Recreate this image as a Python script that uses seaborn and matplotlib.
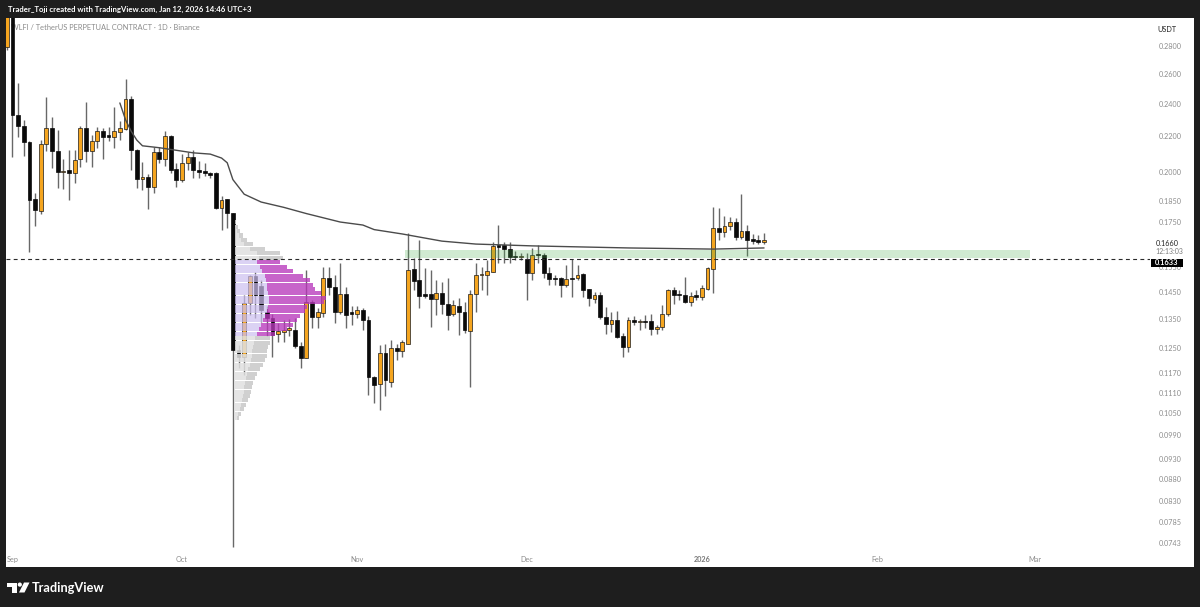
import numpy as np
import pandas as pd
import matplotlib
matplotlib.use("Agg")
import matplotlib.pyplot as plt
import matplotlib.dates as mdates
from matplotlib.patches import Rectangle, Circle, Polygon
from matplotlib.ticker import NullLocator
import seaborn as sns

sns.set_theme(style="white")
plt.rcParams['font.family'] = ['Lato', 'DejaVu Sans']

# ---------------- data ----------------
dates = pd.date_range("2025-08-31", "2026-01-12", freq="D")

opens = [0.2790, 0.3150, 0.2326, 0.2264, 0.2166, 0.1862, 0.1802, 0.2155, 0.2250, 0.2117,
         0.2000, 0.2011, 0.1995, 0.2071, 0.2250, 0.2113, 0.2172, 0.2232, 0.2203, 0.2196,
         0.2226, 0.2244, 0.2431, 0.2119, 0.1963, 0.1973, 0.1922, 0.2108, 0.2071, 0.2203,
         0.2016, 0.1958, 0.2049, 0.2081, 0.2011, 0.2005, 0.1995, 0.1995, 0.1817, 0.1862,
         0.1793, 0.1243, 0.1221, 0.1409, 0.1515, 0.1477, 0.1376, 0.1354, 0.1298, 0.1305,
         0.1312, 0.1312, 0.1257, 0.1218, 0.1413, 0.1358, 0.1373, 0.1507, 0.1470, 0.1377,
         0.1444, 0.1373, 0.1369, 0.1384, 0.1347, 0.1157, 0.1135, 0.1234, 0.1141, 0.1250,
         0.1240, 0.1265, 0.1544, 0.1499, 0.1444, 0.1444, 0.1425, 0.1448, 0.1406, 0.1369,
         0.1398, 0.1377, 0.1309, 0.1444, 0.1518, 0.1518, 0.1533, 0.1644, 0.1644, 0.1630,
         0.1598, 0.1592, 0.1585, 0.1527, 0.1607, 0.1602, 0.1527, 0.1507, 0.1507, 0.1480,
         0.1505, 0.1507, 0.1522, 0.1462, 0.1425, 0.1440, 0.1358, 0.1333, 0.1347, 0.1290,
         0.1254, 0.1347, 0.1340, 0.1343, 0.1343, 0.1316, 0.1323, 0.1369, 0.1459, 0.1444,
         0.1440, 0.1413, 0.1438, 0.1432, 0.1463, 0.1544, 0.1722, 0.1704, 0.1731, 0.1750,
         0.1681, 0.1709, 0.1668, 0.1664, 0.1660]
highs = [0.3200, 0.3200, 0.2540, 0.2298, 0.2175, 0.1890, 0.2180, 0.2444, 0.2317, 0.2238,
         0.2071, 0.2121, 0.2121, 0.2260, 0.2411, 0.2205, 0.2258, 0.2250, 0.2258, 0.2380,
         0.2290, 0.2563, 0.2450, 0.2125, 0.2054, 0.1990, 0.2140, 0.2140, 0.2232, 0.2210,
         0.2050, 0.2098, 0.2108, 0.2119, 0.2060, 0.2050, 0.2000, 0.2000, 0.1875, 0.1862,
         0.1793, 0.1260, 0.1440, 0.1520, 0.1531, 0.1500, 0.1400, 0.1370, 0.1336, 0.1347,
         0.1350, 0.1354, 0.1270, 0.1540, 0.1420, 0.1390, 0.1552, 0.1552, 0.1520, 0.1568,
         0.1470, 0.1400, 0.1400, 0.1390, 0.1360, 0.1160, 0.1260, 0.1265, 0.1277, 0.1265,
         0.1277, 0.1699, 0.1589, 0.1668, 0.1548, 0.1540, 0.1499, 0.1490, 0.1507, 0.1420,
         0.1428, 0.1413, 0.1459, 0.1568, 0.1550, 0.1581, 0.1658, 0.1736, 0.1660, 0.1660,
         0.1620, 0.1610, 0.1610, 0.1633, 0.1645, 0.1610, 0.1550, 0.1520, 0.1510, 0.1560,
         0.1585, 0.1560, 0.1527, 0.1465, 0.1452, 0.1450, 0.1395, 0.1375, 0.1380, 0.1300,
         0.1358, 0.1360, 0.1350, 0.1365, 0.1370, 0.1330, 0.1402, 0.1462, 0.1470, 0.1460,
         0.1511, 0.1450, 0.1460, 0.1480, 0.1550, 0.1822, 0.1817, 0.1779, 0.1774, 0.1770,
         0.1884, 0.1736, 0.1695, 0.1690, 0.1700]
lows = [0.2770, 0.2080, 0.2198, 0.2087, 0.1615, 0.1730, 0.1790, 0.2113, 0.2021, 0.1916,
        0.1911, 0.1856, 0.1942, 0.2027, 0.2054, 0.2027, 0.2132, 0.2071, 0.2172, 0.2134,
        0.2178, 0.2240, 0.2011, 0.1916, 0.1906, 0.1812, 0.1890, 0.2050, 0.2033, 0.1995,
        0.1922, 0.1950, 0.2011, 0.1968, 0.1968, 0.1980, 0.1970, 0.1812, 0.1713, 0.1722,
        0.0735, 0.1185, 0.1163, 0.1365, 0.1354, 0.1340, 0.1290, 0.1221, 0.1272, 0.1270,
        0.1290, 0.1250, 0.1185, 0.1218, 0.1320, 0.1320, 0.1358, 0.1440, 0.1336, 0.1370,
        0.1320, 0.1330, 0.1355, 0.1312, 0.1102, 0.1079, 0.1059, 0.1100, 0.1126, 0.1210,
        0.1220, 0.1262, 0.1459, 0.1391, 0.1430, 0.1321, 0.1365, 0.1370, 0.1312, 0.1360,
        0.1294, 0.1300, 0.1126, 0.1377, 0.1459, 0.1440, 0.1530, 0.1570, 0.1570, 0.1568,
        0.1580, 0.1580, 0.1421, 0.1499, 0.1570, 0.1507, 0.1480, 0.1480, 0.1432, 0.1470,
        0.1432, 0.1500, 0.1432, 0.1400, 0.1410, 0.1350, 0.1298, 0.1305, 0.1283, 0.1221,
        0.1236, 0.1330, 0.1312, 0.1320, 0.1294, 0.1298, 0.1310, 0.1360, 0.1406, 0.1420,
        0.1410, 0.1400, 0.1420, 0.1420, 0.1460, 0.1447, 0.1668, 0.1680, 0.1713, 0.1670,
        0.1672, 0.1598, 0.1650, 0.1650, 0.1650]
closes = [0.3150, 0.2330, 0.2264, 0.2166, 0.1856, 0.1807, 0.2155, 0.2250, 0.2117, 0.2001,
          0.2008, 0.1995, 0.2065, 0.2250, 0.2113, 0.2172, 0.2232, 0.2196, 0.2197, 0.2232,
          0.2250, 0.2431, 0.2119, 0.1963, 0.1973, 0.1922, 0.2108, 0.2071, 0.2203, 0.2011,
          0.1958, 0.2049, 0.2081, 0.2011, 0.2000, 0.1995, 0.1984, 0.1817, 0.1856, 0.1793,
          0.1243, 0.1221, 0.1409, 0.1515, 0.1440, 0.1384, 0.1354, 0.1294, 0.1307, 0.1312,
          0.1318, 0.1257, 0.1218, 0.1413, 0.1358, 0.1377, 0.1507, 0.1470, 0.1377, 0.1444,
          0.1365, 0.1369, 0.1384, 0.1347, 0.1157, 0.1132, 0.1234, 0.1148, 0.1250, 0.1240,
          0.1270, 0.1540, 0.1495, 0.1436, 0.1436, 0.1425, 0.1448, 0.1406, 0.1365, 0.1402,
          0.1377, 0.1312, 0.1444, 0.1518, 0.1522, 0.1537, 0.1641, 0.1638, 0.1630, 0.1594,
          0.1594, 0.1596, 0.1527, 0.1602, 0.1602, 0.1527, 0.1503, 0.1503, 0.1480, 0.1503,
          0.1503, 0.1518, 0.1459, 0.1429, 0.1440, 0.1358, 0.1333, 0.1347, 0.1287, 0.1254,
          0.1347, 0.1340, 0.1343, 0.1340, 0.1316, 0.1323, 0.1369, 0.1459, 0.1440, 0.1440,
          0.1413, 0.1436, 0.1434, 0.1467, 0.1548, 0.1722, 0.1704, 0.1731, 0.1750, 0.1681,
          0.1709, 0.1668, 0.1664, 0.1660, 0.1662]

# anchored VWAP line (read at sampled days)
vwap_dates = pd.to_datetime(["2025-09-20", "2025-09-21", "2025-09-22", "2025-09-23", "2025-09-24",
                             "2025-09-27", "2025-10-03", "2025-10-06", "2025-10-08", "2025-10-09",
                             "2025-10-10", "2025-10-12", "2025-10-15", "2025-10-19", "2025-10-23",
                             "2025-10-29", "2025-11-02", "2025-11-04", "2025-11-09", "2025-11-16",
                             "2025-11-22", "2025-12-02", "2025-12-19", "2025-12-22", "2026-01-03",
                             "2026-01-12"])
vwap_vals = [0.2405, 0.2300, 0.2230, 0.2178, 0.2145,
             0.2134, 0.2105, 0.2098, 0.2076, 0.2050,
             0.1960, 0.1885, 0.1846, 0.1820, 0.1790,
             0.1750, 0.1736, 0.1715, 0.1695, 0.1663,
             0.1650, 0.1642, 0.1633, 0.1632, 0.1628,
             0.1633]

# fixed-range volume profile (rows from top to bottom, price 0.1760 -> 0.1030)
profile_top, profile_bottom = 0.1760, 0.1030
profile_up = [0, 1, 2, 4, 6, 9, 15, 22, 24,
              22, 25, 27, 30, 31, 32, 32, 33, 34, 34, 33, 32, 30, 28, 26, 24, 22,
              20, 19, 18, 17, 17, 16, 15, 13, 12, 11, 10, 9, 9, 8, 7, 6, 5, 3, 2]
profile_down = [1, 2, 3, 4, 6, 9, 15, 23, 24,
                23, 27, 31, 38, 44, 46, 48, 52, 56, 54, 39, 38, 35, 34, 32, 28, 18,
                15, 16, 15, 15, 15, 14, 13, 12, 10, 9, 8, 8, 7, 7, 6, 5, 4, 3, 2]
value_area_rows = (9, 25)
profile_anchor = pd.Timestamp("2025-10-10 09:30")

zone_start, zone_end = pd.Timestamp("2025-11-09 12:00"), pd.Timestamp("2026-02-28")
zone_low, zone_high = 0.1589, 0.1624
hline_price = 0.1585

price_ticks = [0.2800, 0.2600, 0.2400, 0.2200, 0.2000, 0.1850, 0.1750, 0.1550, 0.1450,
               0.1350, 0.1250, 0.1170, 0.1110, 0.1050, 0.0990, 0.0930, 0.0880, 0.0830,
               0.0785, 0.0743]
month_ticks = pd.to_datetime(["2025-09-01", "2025-10-01", "2025-11-01", "2025-12-01",
                              "2026-01-01", "2026-02-01", "2026-03-01"])
month_labels = ["Sep", "Oct", "Nov", "Dec", "2026", "Feb", "Mar"]

# ---------------- figure ----------------
W, H = 1200, 607
fig = plt.figure(figsize=(W / 100, H / 100), dpi=100, facecolor="white")
ax = fig.add_axes([6 / W, 1 - 548 / H, (1150 - 6) / W, (548 - 18) / H])
ax.set_facecolor("white")
ax.set_yscale("log")
ax.set_ylim(0.07329, 0.30174)
sep1 = mdates.date2num(pd.Timestamp("2025-09-01"))
ax.set_xlim(sep1 - 1.15, sep1 + 201.3)

x = mdates.date2num(dates)
o = np.array(opens); h = np.array(highs); l = np.array(lows); c = np.array(closes)
up = c >= o

ax.vlines(x, l, h, color="#686868", lw=1.0, zorder=2)
bottom = np.minimum(o, c)
height = np.maximum(np.abs(c - o), bottom * 0.004)
ax.bar(x[up], height[up], bottom=bottom[up], width=0.68, color="#f5a51f",
       edgecolor="#1a1a1a", lw=0.5, zorder=3)
ax.bar(x[~up], height[~up], bottom=bottom[~up], width=0.68, color="#0a0a0a",
       edgecolor="#0a0a0a", lw=0.5, zorder=3)

# volume profile
edges = np.geomspace(profile_top, profile_bottom, len(profile_up) + 1)
anchor = mdates.date2num(profile_anchor)
vol_total = np.array(profile_up) + np.array(profile_down)
scale = 16.0 / vol_total.max()
for i, (u, d) in enumerate(zip(profile_up, profile_down)):
    top, bot = edges[i], edges[i + 1]
    hgt = (top - bot) * 0.9
    y0 = bot + (top - bot) * 0.05
    in_va = value_area_rows[0] <= i <= value_area_rows[1]
    cu, cd = ("#cdbff0", "#b838bb") if in_va else ("#e0e0e0", "#c8c8c8")
    au, ad = (0.7, 0.78) if in_va else (0.85, 0.85)
    ax.barh(y0, u * scale, left=anchor, height=hgt, align="edge", color=cu,
            alpha=au, lw=0, zorder=4)
    ax.barh(y0, d * scale, left=anchor + u * scale, height=hgt, align="edge",
            color=cd, alpha=ad, lw=0, zorder=4)

# zone and line
ax.fill_between(mdates.date2num([zone_start, zone_end]), zone_low, zone_high,
                color="#4caf50", alpha=0.26, lw=0, zorder=4)
ax.axhline(hline_price, color="#2a2a2a", lw=0.8, ls=(0, (3.5, 3)), zorder=5)

sns.lineplot(x=mdates.date2num(vwap_dates), y=vwap_vals, ax=ax, color="#4b4b4b",
             lw=1.0, zorder=6, estimator=None, sort=False)

# axes styling
for s in ax.spines.values():
    s.set_visible(False)
ax.grid(False)
ax.yaxis.tick_right()
ax.yaxis.set_minor_locator(NullLocator())
ax.set_yticks(price_ticks)
ax.set_yticklabels([f"{t:.4f}" for t in price_ticks])
ax.tick_params(axis="y", length=0, pad=6, labelsize=5.2, labelcolor="#8c8c8c")
ax.set_xticks(mdates.date2num(month_ticks))
ax.set_xticklabels(month_labels)
ax.tick_params(axis="x", length=0, pad=6, labelsize=5.2, labelcolor="#8c8c8c")
for lab in ax.get_xticklabels():
    if lab.get_text() == "2026":
        lab.set_fontweight("bold")
        lab.set_color("#777777")
ax.set_xlabel(""); ax.set_ylabel("")

ax.text((11 - 6) / 1144, (548 - 27) / 530, "WLFI / TetherUS PERPETUAL CONTRACT · 1D · Binance",
        transform=ax.transAxes, fontsize=5.4, color="#8c8c8c", va="center", ha="left", zorder=1)

# overlay: frame, header, footer, labels
ov = fig.add_axes([0, 0, 1, 1], zorder=10)
ov.set_xlim(0, W); ov.set_ylim(H, 0)
ov.axis("off")
ov.patch.set_alpha(0)
dark = "#1e1e1e"
for r in [(0, 0, W, 18), (0, 567, W, 40), (0, 0, 6, H), (1194, 0, 6, H)]:
    ov.add_patch(Rectangle(r[:2], r[2], r[3], color=dark, lw=0))
ov.text(8, 9.5, "Trader_Toji created with TradingView.com, Jan 12, 2026 14:46 UTC+3",
        color="white", fontsize=5.6, va="center", ha="left", fontweight="bold")

ov.text(1167, 29, "USDT", color="#222222", fontsize=5.2, ha="center", va="center")
ov.text(1156, 243, "0.1660", color="#222222", fontsize=5.2, ha="left", va="center")
ov.text(1155, 251, "12:13:03", color="#7a7a7a", fontsize=5.0, ha="left", va="center")
ov.add_patch(Rectangle((1151, 258.5), 32, 8.5, color="black", lw=0))
ov.text(1167, 262.8, "0.1633", color="white", fontsize=5.4, ha="center", va="center",
        fontweight="bold")

# TradingView logo
ov.add_patch(Rectangle((7, 582.5), 10, 4, color="white", lw=0))
ov.add_patch(Rectangle((12, 582.5), 5, 10, color="white", lw=0))
ov.add_patch(Circle((19.8, 584.6), 2.1, color="white", lw=0))
ov.add_patch(Polygon([(24, 582.5), (29.5, 582.5), (24.5, 592.5), (19, 592.5)],
                     closed=True, color="white", lw=0))
ov.text(32, 587.5, "TradingView", color="white", fontsize=9.2, ha="left", va="center",
        fontweight="bold")

fig.savefig("out.png", dpi=100, facecolor="white")
